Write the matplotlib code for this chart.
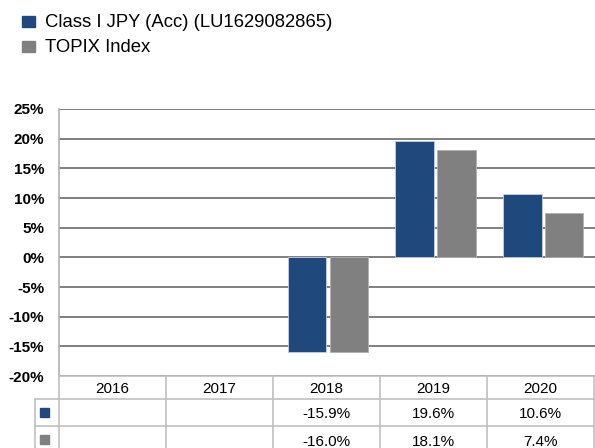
import matplotlib
matplotlib.use("Agg")
import matplotlib.pyplot as plt
import numpy as np

plt.rcParams['font.family'] = ['Liberation Sans', 'DejaVu Sans']

years = ["2016", "2017", "2018", "2019", "2020"]
fund_name = "Class I JPY (Acc) (LU1629082865)"
index_name = "TOPIX Index"
fund = [np.nan, np.nan, -15.9, 19.6, 10.6]
index = [np.nan, np.nan, -16.0, 18.1, 7.4]
fund_color = "#1f497d"
index_color = "#808080"
yticks = [-20, -15, -10, -5, 0, 5, 10, 15, 20, 25]

W, H = 595, 448
fig = plt.figure(figsize=(W / 100, H / 100), dpi=100)

# chart area in pixels
left, right, top, bottom = 59, 597, 109, 376
ax = fig.add_axes([left / W, 1 - bottom / H, (right - left) / W, (bottom - top) / H])

x = np.arange(len(years))
bw = 0.36
ax.bar(x - 0.194, fund, bw, color=fund_color, edgecolor="#c8d0dc", linewidth=0.6, zorder=3)
ax.bar(x + 0.194, index, bw, color=index_color, edgecolor="#b0b0b0", linewidth=0.6, zorder=3)

ax.set_xlim(-0.5, len(years) - 0.5)
ax.set_ylim(-20, 25)
ax.set_yticks(yticks)
ax.set_yticklabels([f"{t}%" for t in yticks], fontsize=11, fontweight="bold")
ax.tick_params(axis="y", length=0, pad=10.5)
ax.set_xticks([])
ax.grid(axis="y", color="#7f7f7f", linewidth=1.4, zorder=1)
for s in ["top", "right", "bottom"]:
    ax.spines[s].set_visible(False)
ax.spines["left"].set_color("#b0b0b0")
ax.spines["left"].set_linewidth(1.2)

# overlay in pixel coordinates for legend and table
ov = fig.add_axes([0, 0, 1, 1], facecolor="none")
ov.set_xlim(0, W)
ov.set_ylim(H, 0)
ov.axis("off")

# legend
for i, (name, c) in enumerate([(fund_name, fund_color), (index_name, index_color)]):
    y = 22 + i * 24.5
    ov.add_patch(plt.Rectangle((22, y - 5.5), 13, 11, color=c))
    ov.text(45, y + 0.5, name, fontsize=13.3, va="center", ha="left")

# data table
tleft, col_w = 59, 107
tright = 597
line_kw = dict(color="#c0c0c0", linewidth=1.2)
row_y = [bottom, 399, 426, 453]
ov.plot([tleft, tright], [row_y[0], row_y[0]], **line_kw)
for yy in row_y[1:]:
    ov.plot([35, tright], [yy, yy], **line_kw)
ov.plot([35, 35], [row_y[1], row_y[3]], **line_kw)
for k in range(len(years) + 1):
    xx = tleft + k * col_w
    ov.plot([xx, xx], [row_y[0], row_y[3]], **line_kw)

for k, yr in enumerate(years):
    cx = tleft + (k + 0.5) * col_w
    ov.text(cx, 389, yr, fontsize=11, ha="center", va="center")
    for r, vals in enumerate([fund, index]):
        v = vals[k]
        if not np.isnan(v):
            ov.text(cx, (row_y[r + 1] + row_y[r + 2]) / 2 + 2, f"{v:.1f}%",
                    fontsize=11, ha="center", va="center")

for r, c in enumerate([fund_color, index_color]):
    yc = (row_y[r + 1] + row_y[r + 2]) / 2
    ov.add_patch(plt.Rectangle((40, yc - 4.5), 9, 9, color=c))

fig.savefig("out.png", dpi=100)
